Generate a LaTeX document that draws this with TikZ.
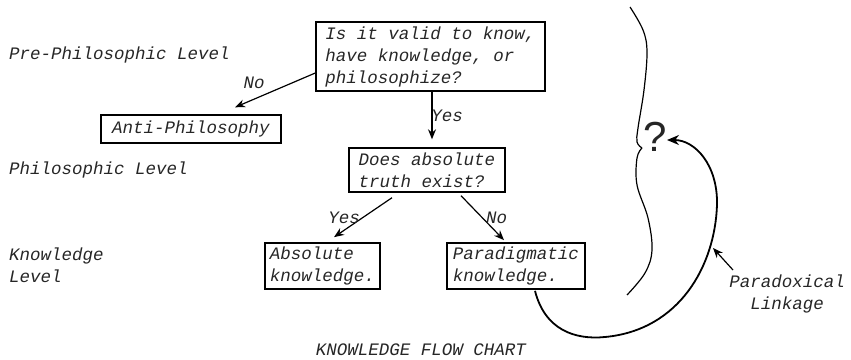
\documentclass[tikz,border=0pt]{standalone}
\usepackage{fontspec}
\newfontfamily\typer{Liberation Mono}
\newfontfamily\hand{Liberation Sans}
\usetikzlibrary{calc,arrows.meta}
\begin{document}
\begin{tikzpicture}[x=0.5pt,y=-0.5pt,
	every node/.style={font=\typer\itshape\fontsize{8.75}{11}\selectfont,text=black!85},
	box/.style={draw,line width=0.7pt,align=left,inner sep=2pt},
	flow/.style={line width=0.6pt,-{Stealth[length=5pt,width=4pt]}},
	lbl/.style={inner sep=1pt,pos=0.5}]
\useasboundingbox (0,0) rectangle (851,359);
\node[box,minimum width=114.5pt,minimum height=34.5pt] (top) at (430.5,56.5)
	{Is it valid to know,\\have knowledge, or\\philosophize?};
\node[box,minimum width=90pt,minimum height=14pt] (anti) at (191,129) {Anti-Philosophy};
\node[box,minimum width=78pt,minimum height=22pt] (does) at (427,170) {Does absolute\\truth exist?};
\node[box,minimum width=57.5pt,minimum height=21pt] (abs) at (322.5,266) {Absolute\\knowledge.};
\node[box,minimum width=69pt,minimum height=21pt] (para) at (516,266) {Paradigmatic\\knowledge.};

\node[anchor=west] (pre) at (2,55) {Pre-Philosophic Level};
\node[anchor=west] (phil) at (2,170) {Philosophic Level};
\node[anchor=west,align=left] (know) at (2,265) {Knowledge\\Level};
\node (title) at (421,350) {KNOWLEDGE FLOW CHART};
\node[align=center] (link) at (787,294) {Paradoxical\\Linkage};
\node[font=\hand\fontsize{21}{21}\selectfont] (qm) at (655,137) {?};

\draw[flow] ($(top.west)+(0,16.5)$) -- node[lbl,xshift=-10.5pt,yshift=3.5pt] {No} ($(anti.north)+(44,-7)$);
\draw[flow] ($(top.south)+(1.5,0)$) -- node[lbl,xshift=7.5pt] {Yes} ($(does.north)+(5,-8)$);
\draw[flow] ($(does.south)+(-35,5)$) -- node[lbl,xshift=-9.5pt] {Yes} ($(abs.north)+(11.5,-5)$);
\draw[flow] ($(does.south)+(34,3)$) -- node[lbl,xshift=7pt] {No} ($(para.north)+(-12,-2)$);

\draw[line width=0.9pt,-{Stealth[length=6pt,width=5pt]}] ($(para.south)+(19,1)$)
	.. controls (545,330) and (575,340) .. (605,337)
	.. controls (680,330) and (715,265) .. (717,205)
	.. controls (718,165) and (695,140) .. ($(qm.center)+(12,3)$);
\draw[line width=0.6pt,-{Stealth[length=5pt,width=4pt]}] ($(link.center)+(-54,-24)$) -- ($(link.center)+(-74,-46)$);

\draw[line width=0.6pt] plot[smooth,tension=0.6] coordinates
	{(630,7) (643,30) (647,52) (644,90) (638,128) (637,142) (642,148)};
\draw[line width=0.6pt] plot[smooth,tension=0.6] coordinates
	{(642,148) (637,158) (637,185) (648,218) (652,250) (645,273) (627,295)};
\end{tikzpicture}
\end{document}
